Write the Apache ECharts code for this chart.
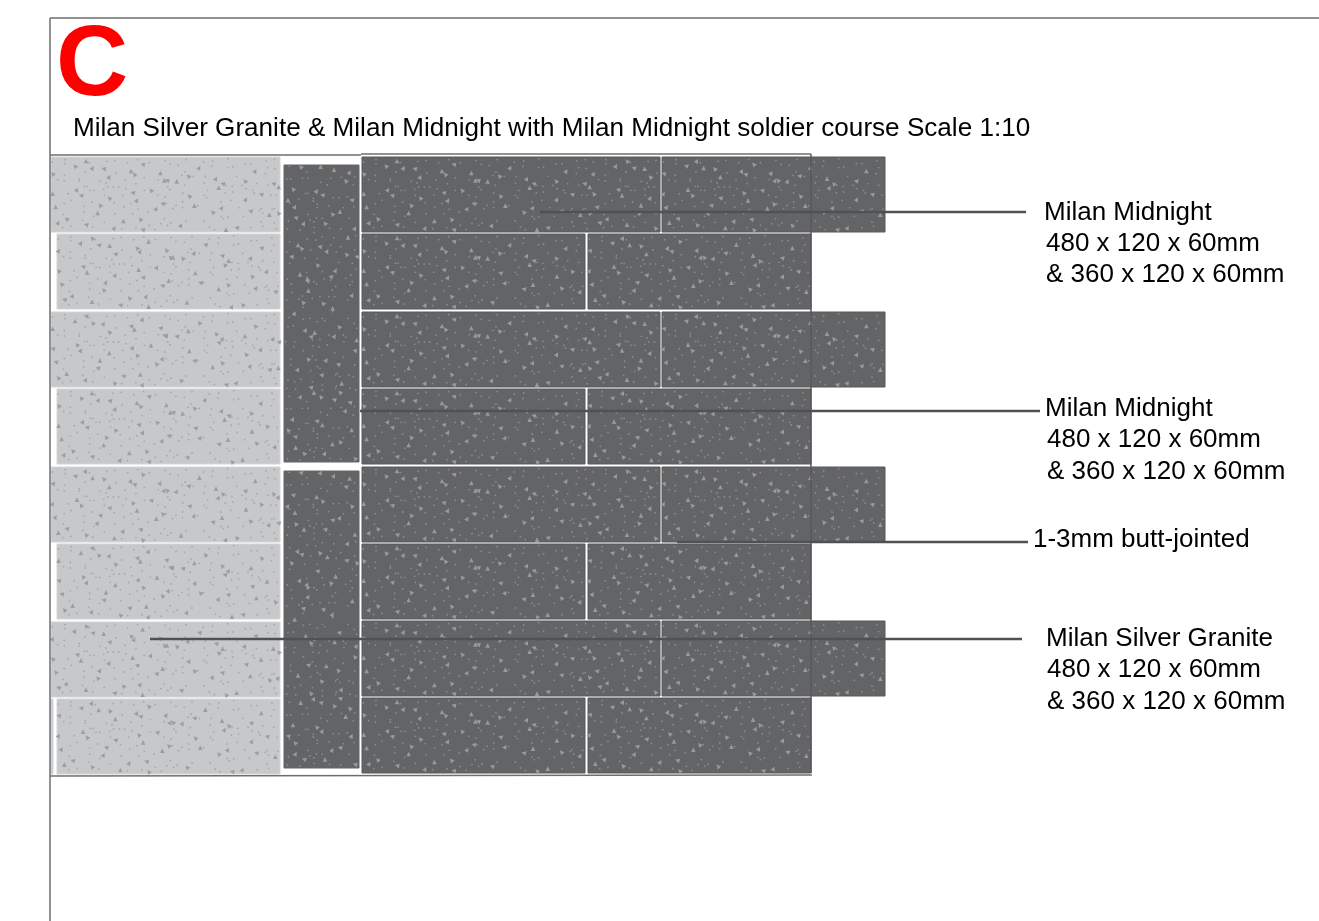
<!DOCTYPE html>
<html><head><meta charset="utf-8">
<style>html,body{margin:0;padding:0;background:#fff}#c{width:1319px;height:921px}</style>
<script src="https://cdn.jsdelivr.net/npm/echarts@6/dist/echarts.min.js"></script>
</head><body><div id="c"></div>
<script>
// bricks: [x0, y0, x1, y1]
const silverBricks = [
 [51,157,280,232],[57,234,280,309],[51,312,280,387],[57,389,280,464],
 [51,467,280,542],[57,544,280,619],[51,622,280,697],[57,699,280,774],[51,699,53,774]
];
const midnightBricks = [
 [362,157,660,232],[662,157,885,232],[362,234,585,309],[588,234,811,309],
 [362,312,660,387],[662,312,885,387],[362,389,585,464],[588,389,811,464],
 [362,467,660,542],[662,467,885,542],[362,544,585,619],[588,544,811,619],
 [362,621,660,696],[662,621,885,696],[362,698,585,773],[588,698,811,773]
];
const soldierBricks = [[284,165,359,462],[284,471,359,768]];
// speckle texture (3x zoom units, tile 690 x 228)
const bigSpecksLeft = [[105,12],[72,27],[125,33],[158,35],[240,42],[250,52],[175,60],[275,22],[328,48],[5,50],[78,98],[90,115],[5,110],[175,123],[258,130],[245,107],[14,150],[147,145],[316,155],[335,140],[140,168],[47,185],[22,197],[105,203],[217,192],[268,187],[190,213],[275,218],[340,70],[300,100]];
const bigSpecksRight = [[100,32],[3,70],[32,73],[67,57],[150,65],[170,80],[158,92],[237,72],[268,42],[322,80],[338,90],[70,117],[240,127],[285,112],[85,146],[140,165],[168,152],[253,162],[310,173],[337,168],[45,205],[212,212],[180,218]];
const smallSpecksLeft = [[42,8],[42,20],[4,15],[115,17],[168,13],[192,10],[230,17],[260,8],[295,17],[342,10],[40,55],[40,72],[20,68],[85,65],[85,72],[102,45],[148,73],[165,78],[222,70],[195,48],[255,80],[280,62],[322,68],[100,88],[108,88],[117,100],[128,100],[158,97],[170,90],[187,90],[203,90],[52,110],[60,130],[40,140],[98,148],[98,165],[122,135],[160,115],[215,115],[280,100],[320,115],[342,120],[225,95],[240,140],[190,137],[218,150],[262,157],[292,165],[37,172],[95,190],[128,178],[160,196],[192,170],[245,170],[60,208],[35,212],[125,210],[212,215],[255,212],[295,205],[330,200],[312,217],[340,185]];
const smallSpecksRight = [[60,8],[12,22],[37,25],[112,15],[140,12],[185,5],[138,28],[185,32],[200,30],[238,20],[255,20],[300,12],[325,8],[305,32],[327,35],[57,45],[48,55],[82,58],[118,58],[212,58],[298,50],[5,90],[12,98],[55,85],[115,78],[125,100],[180,85],[198,88],[228,85],[240,95],[272,80],[260,100],[305,85],[50,108],[115,115],[122,122],[178,108],[200,105],[265,108],[315,115],[330,115],[50,135],[30,145],[50,152],[95,146],[195,130],[165,135],[218,152],[285,155],[318,157],[325,155],[0,140],[20,155],[115,192],[165,178],[185,180],[172,185],[232,178],[280,160],[290,168],[60,192],[15,198],[5,205],[130,210],[145,218],[285,195],[290,208],[255,212],[325,198],[330,215],[30,222]];
const frameLines = [[50,18,50,921],[50,18,1319,18],[50,155,361,155],[361,154,811,154],[50,776,812,775]];
const overhangLines = [[811,154,811,773]];
const leaderLines = [[540,212,1026,212],[360,411,1040,411],[677,542,1028,542],[150,639,1022,639]];
// text: [x, y, string]
const calloutLabels = [
 [1044,213,'Milan Midnight'],[1046,244,'480 x 120 x 60mm'],[1046,275,'& 360 x 120 x 60mm'],
 [1045,409,'Milan Midnight'],[1047,440,'480 x 120 x 60mm'],[1047,472,'& 360 x 120 x 60mm'],
 [1033,540,'1-3mm butt-jointed'],
 [1046,639,'Milan Silver Granite'],[1047,670,'480 x 120 x 60mm'],[1047,702,'& 360 x 120 x 60mm']
];
const titleLabel = [[73,129,'Milan Silver Granite & Milan Midnight with Milan Midnight soldier course Scale 1:10']];
const letterLabel = [[56,67,'C']];

const TILE_W = 230, TILE_H = 76;
const speckAngles = [0, 40, -30, 75];
const tilePts = (l, r) => l.map(p => [p[0]/3, p[1]/3]).concat(r.map(p => [p[0]/3 + 115, p[1]/3]));
const bigTile = tilePts(bigSpecksLeft, bigSpecksRight);
const smallTile = tilePts(smallSpecksLeft, smallSpecksRight);
function speckle(bricks, tile, rotated) {
  const out = [];
  bricks.forEach(b => {
    if (b[2]-b[0] < 10) return;
    const w = b[2]-b[0], h = b[3]-b[1];
    const nu = Math.ceil((rotated ? h : w) / TILE_W);
    for (let k = 0; k < nu; k++) tile.forEach(p => {
      const u = p[0] + k*TILE_W, v = p[1];
      const x = rotated ? v : u, y = rotated ? u : v;
      if (x < w-1 && y < h-1 && x > 0.5 && y > 0.5) out.push([b[0]+x, b[1]+y]);
    });
  });
  return out;
}
function rectSeries(data, fill, stroke, z) {
  return {type:'custom', coordinateSystem:'cartesian2d', silent:true, z, clip:false, animation:false,
    data, encode:{x:[0,2], y:[1,3]},
    renderItem(p, api){
      const a = api.coord([api.value(0), api.value(1)]), c = api.coord([api.value(2), api.value(3)]);
      return {type:'rect', shape:{x:a[0], y:a[1], width:c[0]-a[0], height:c[1]-a[1]},
        style:{fill, stroke, lineWidth:1}};
    }};
}
function lineSeries(data, stroke, width, z) {
  return {type:'custom', coordinateSystem:'cartesian2d', silent:true, z, clip:false, animation:false,
    data, encode:{x:[0,2], y:[1,3]},
    renderItem(p, api){
      const a = api.coord([api.value(0), api.value(1)]), c = api.coord([api.value(2), api.value(3)]);
      return {type:'line', shape:{x1:a[0], y1:a[1], x2:c[0], y2:c[1]}, style:{stroke, lineWidth:width}};
    }};
}
function textSeries(data, font, fill, z) {
  return {type:'custom', coordinateSystem:'cartesian2d', silent:true, z, clip:false, animation:false,
    data, encode:{x:0, y:1},
    renderItem(p, api){
      const a = api.coord([api.value(0), api.value(1)]);
      return {type:'text', x:a[0], y:a[1], style:{text:data[p.dataIndex][2], font, fill, textAlign:'left', textVerticalAlign:'middle'}};
    }};
}
function dots(data, symbol, size, color, z) {
  return {type:'scatter', data, symbol, symbolSize:size, silent:true, z, animation:false, large:false,
    symbolRotate:(v, p) => speckAngles[p.dataIndex % speckAngles.length],
    itemStyle:{color, opacity:1}};
}
const chart = echarts.init(document.getElementById('c'));
const lightBig = '#9d9ea1', lightSmall = '#a6a7aa', darkBig = '#98999b', darkSmall = '#8b8c8e';
const FONT = '"Liberation Sans", Arial, sans-serif';
chart.setOption({
  animation:false, backgroundColor:'#fff',
  grid:{left:0, right:0, top:0, bottom:0},
  xAxis:{type:'value', min:0, max:1319, show:false},
  yAxis:{type:'value', min:0, max:921, inverse:true, show:false},
  tooltip:{show:false},
  series:[
    rectSeries(silverBricks, '#c7c8ca', '#d3d4d6', 1),
    rectSeries(midnightBricks, '#636466', '#58595b', 1),
    rectSeries(soldierBricks, '#636466', '#636466', 1),
    dots(speckle(silverBricks, bigTile, false), 'triangle', 4.6, lightBig, 2),
    dots(speckle(silverBricks, smallTile, false), 'circle', 1.8, lightSmall, 2),
    dots(speckle(midnightBricks, bigTile, false), 'triangle', 4.6, darkBig, 2),
    dots(speckle(midnightBricks, smallTile, false), 'circle', 1.8, darkSmall, 2),
    dots(speckle(soldierBricks, bigTile, true), 'triangle', 4.6, darkBig, 2),
    dots(speckle(soldierBricks, smallTile, true), 'circle', 1.8, darkSmall, 2),
    lineSeries(frameLines, '#6d6e70', 1.5, 3),
    lineSeries(overhangLines, '#58595b', 1.5, 3),
    lineSeries(leaderLines, '#505153', 2.6, 4),
    textSeries(calloutLabels, '26px ' + FONT, '#000', 5),
    textSeries(titleLabel, '26.1px ' + FONT, '#000', 5),
    textSeries(letterLabel, 'bold 100px ' + FONT, '#ff0000', 5)
  ]
});
</script></body></html>
